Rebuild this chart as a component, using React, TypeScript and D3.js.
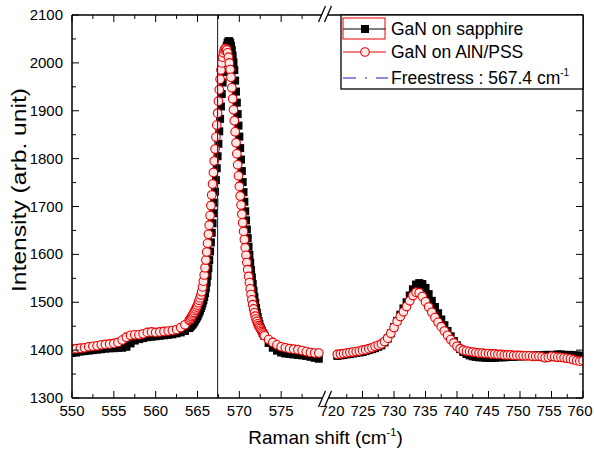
import React from 'react';
import * as d3 from 'd3';

// ---------- data ----------
const xLeft = [
  550, 550.5, 551, 551.5, 552, 552.5, 553, 553.5, 554, 554.5, 555, 555.5, 556, 556.5,
  557, 557.5, 558, 558.5, 559, 559.5, 560, 560.5, 561, 561.5, 562, 562.5, 563, 563.5,
  564.0, 564.1, 564.2, 564.3, 564.4, 564.5, 564.6, 564.7, 564.8, 564.9,
  565.0, 565.1, 565.2, 565.3, 565.4, 565.5, 565.6, 565.7, 565.8, 565.9,
  566.0, 566.1, 566.2, 566.3, 566.4, 566.5, 566.6, 566.7, 566.8, 566.9,
  567.0, 567.1, 567.2, 567.3, 567.4, 567.5, 567.6, 567.7, 567.8, 567.9,
  568.0, 568.1, 568.2, 568.3, 568.4, 568.5, 568.6, 568.7, 568.8, 568.9,
  569.0, 569.1, 569.2, 569.3, 569.4, 569.5, 569.6, 569.7, 569.8, 569.9,
  570.0, 570.1, 570.2, 570.3, 570.4, 570.5, 570.6, 570.7, 570.8, 570.9,
  571.0, 571.1, 571.2, 571.3, 571.4, 571.5, 571.6, 571.7, 571.8, 571.9,
  572.0, 572.1, 572.2, 572.3, 572.4, 572.5, 572.6, 572.7, 572.8, 572.9,
  573.0, 573.5, 574, 574.5, 575, 575.5, 576, 576.5, 577, 577.5, 578, 578.5, 579, 579.5,
];

const sapphireLeft = [
  1394, 1395, 1397, 1398, 1399, 1400, 1401, 1402, 1403, 1404, 1404, 1405, 1405, 1407,
  1414, 1420, 1423, 1425, 1427, 1428, 1429, 1430, 1431, 1432, 1433, 1435, 1437, 1440,
  1446, 1448, 1450, 1452, 1454, 1456, 1459, 1462, 1465, 1468,
  1471, 1475, 1479, 1483, 1488, 1493, 1498, 1504, 1511, 1519,
  1529, 1541, 1555, 1571, 1588, 1606, 1625, 1645, 1665, 1686,
  1708, 1731, 1755, 1780, 1805, 1831, 1857, 1883, 1909, 1935,
  1959, 1981, 2000, 2015, 2027, 2036, 2042, 2045, 2045, 2042,
  2036, 2027, 2015, 2001, 1985, 1963, 1940, 1917, 1893, 1869,
  1846, 1822, 1798, 1774, 1751, 1730, 1710, 1690, 1671, 1652,
  1634, 1616, 1599, 1583, 1567, 1552, 1538, 1524, 1511, 1499,
  1488, 1478, 1469, 1461, 1454, 1448, 1444, 1440, 1436, 1433,
  1430, 1415, 1405, 1399, 1395, 1393, 1392, 1391, 1390, 1389, 1388, 1386, 1384, 1382,
];

const pssLeft = [
  1402, 1403, 1404, 1405, 1407, 1408, 1409, 1411, 1412, 1413, 1414, 1416, 1421, 1427,
  1431, 1432, 1432, 1434, 1437, 1438, 1437, 1438, 1439, 1440, 1441, 1443, 1447, 1453,
  1462, 1464, 1467, 1470, 1473, 1476, 1479, 1483, 1486, 1490,
  1494, 1499, 1504, 1509, 1515, 1522, 1532, 1544, 1557, 1572,
  1588, 1605, 1623, 1642, 1661, 1681, 1702, 1724, 1747, 1771,
  1795, 1820, 1845, 1870, 1895, 1920, 1944, 1966, 1985, 2000,
  2012, 2021, 2027, 2030, 2030, 2027, 2021, 2012, 2000, 1986,
  1970, 1948, 1925, 1902, 1879, 1856, 1833, 1810, 1787, 1764,
  1742, 1722, 1703, 1684, 1666, 1648, 1631, 1614, 1598, 1583,
  1568, 1554, 1541, 1528, 1516, 1505, 1495, 1486, 1478, 1471,
  1465, 1460, 1455, 1451, 1448, 1445, 1442, 1439, 1436, 1433,
  1430, 1422, 1416, 1411, 1407, 1405, 1403, 1402, 1401, 1399, 1397, 1395, 1394, 1394,
];

const xRight = [
  721, 721.5, 722, 722.5, 723, 723.5, 724, 724.5, 725, 725.5, 726, 726.5, 727, 727.5,
  728, 728.5, 729, 729.5, 730, 730.5, 731, 731.5, 732, 732.5, 733, 733.5, 734, 734.5,
  735, 735.5, 736, 736.5, 737, 737.5, 738, 738.5, 739, 739.5, 740, 740.5, 741, 741.5,
  742, 742.5, 743, 743.5, 744, 744.5, 745, 745.5, 746, 746.5, 747, 747.5, 748, 748.5,
  749, 749.5, 750, 750.5, 751, 751.5, 752, 752.5, 753, 753.5, 754, 754.5, 755, 755.5,
  756, 756.5, 757, 757.5, 758, 758.5, 759, 759.5, 760,
];

const sapphireRight = [
  1388, 1389, 1390, 1391, 1392, 1393, 1394, 1395, 1396, 1398, 1400, 1402, 1404, 1407,
  1410, 1416, 1424, 1435, 1448, 1461, 1474, 1487, 1500, 1514, 1527, 1537, 1540, 1538,
  1530, 1517, 1503, 1490, 1477, 1464, 1452, 1440, 1429, 1419, 1410, 1402, 1396, 1392,
  1389, 1387, 1386, 1385, 1385, 1384, 1384, 1384, 1384, 1385, 1385, 1385, 1386, 1386,
  1386, 1387, 1387, 1387, 1388, 1388, 1388, 1389, 1389, 1389, 1390, 1390, 1390, 1390,
  1391, 1391, 1390, 1390, 1390, 1389, 1389, 1388, 1388,
];

const pssRight = [
  1391, 1392, 1393, 1394, 1395, 1396, 1397, 1398, 1400, 1401, 1403, 1405, 1408, 1410,
  1413, 1418, 1425, 1435, 1447, 1460, 1470, 1480, 1491, 1503, 1514, 1521, 1520, 1512,
  1501, 1490, 1479, 1468, 1458, 1449, 1440, 1431, 1422, 1415, 1408, 1403, 1400, 1398,
  1397, 1396, 1395, 1394, 1394, 1393, 1393, 1392, 1392, 1391, 1391, 1390, 1390, 1390,
  1389, 1389, 1389, 1388, 1388, 1388, 1387, 1387, 1387, 1386, 1384, 1385, 1387, 1386,
  1385, 1385, 1384, 1383, 1382, 1380, 1378, 1377, 1378,
];

const freestress = 567.4;

const xMajorLeft = [550, 555, 560, 565, 570, 575];
const xMinorLeft = [552.5, 557.5, 562.5, 567.5, 572.5, 577.5];
const xMajorRight = [725, 730, 735, 740, 745, 750, 755, 760];
const xLabelsRight = [720, 725, 730, 735, 740, 745, 750, 755, 760];
const xMinorRight = [722.5, 727.5, 732.5, 737.5, 742.5, 747.5, 752.5, 757.5];
const yMajor = [1300, 1400, 1500, 1600, 1700, 1800, 1900, 2000, 2100];
const yMinor = [1350, 1450, 1550, 1650, 1750, 1850, 1950, 2050];

const seriesNames = ['GaN on sapphire', 'GaN on AlN/PSS'];

// ---------- layout ----------
const W = 594, H = 450;
const L = 72, R = 583, T = 15, B = 398;
const BREAK_L = 323, BREAK_R = 331;
const FONT = '"Liberation Sans", Arial, sans-serif';

export default function App() {
  const xL = d3.scaleLinear().domain([550, 580]).range([L, BREAK_L]);
  const xR = d3.scaleLinear().domain([720, 760]).range([BREAK_R, R]);
  // label positions on the right segment sit slightly left of the ticks in the reference
  const xRLabel = d3.scaleLinear().domain([720, 760]).range([BREAK_R + 1, R - 3]);
  const y = d3.scaleLinear().domain([1300, 2100]).range([B, T]);

  const makePts = (xs: number[], ys: number[], sx: d3.ScaleLinear<number, number>) =>
    xs.map((v, i) => [sx(v), y(ys[i])] as [number, number]);

  const sapL = makePts(xLeft, sapphireLeft, xL);
  const sapR = makePts(xRight, sapphireRight, xR);
  const pssL = makePts(xLeft, pssLeft, xL);
  const pssR = makePts(xRight, pssRight, xR);

  const line = d3.line<[number, number]>().x(d => d[0]).y(d => d[1]);

  const sq = 8;
  const cr = 4.3;
  const red = '#e80000';
  const circFill = '#fde8e8';
  const blue = '#1a1ad0';

  const tickStyle = { stroke: '#000', strokeWidth: 1 };
  const maj = 7, min = 4;

  const xTicks: JSX.Element[] = [];
  const addX = (px: number, len: number, key: string) => {
    xTicks.push(<line key={'b' + key} x1={px} x2={px} y1={B} y2={B - len} {...tickStyle} />);
    xTicks.push(<line key={'t' + key} x1={px} x2={px} y1={T} y2={T + len} {...tickStyle} />);
  };
  xMajorLeft.forEach(v => addX(xL(v), maj, 'ML' + v));
  xMinorLeft.forEach(v => addX(xL(v), min, 'mL' + v));
  xMajorRight.forEach(v => addX(xR(v), maj, 'MR' + v));
  xMinorRight.forEach(v => addX(xR(v), min, 'mR' + v));

  const yTicks: JSX.Element[] = [];
  yMajor.forEach(v => {
    yTicks.push(<line key={'yl' + v} x1={L} x2={L + maj} y1={y(v)} y2={y(v)} {...tickStyle} />);
    yTicks.push(<line key={'yr' + v} x1={R} x2={R - maj} y1={y(v)} y2={y(v)} {...tickStyle} />);
  });
  yMinor.forEach(v => {
    yTicks.push(<line key={'yml' + v} x1={L} x2={L + min} y1={y(v)} y2={y(v)} {...tickStyle} />);
    yTicks.push(<line key={'ymr' + v} x1={R} x2={R - min} y1={y(v)} y2={y(v)} {...tickStyle} />);
  });

  const slash = (cx: number, cy: number, key: string) => (
    <line key={key} x1={cx - 3.5} y1={cy + 8} x2={cx + 3.5} y2={cy - 8} stroke="#000" strokeWidth={1.3} />
  );

  return (
    <svg width={W} height={H} style={{ position: 'absolute', left: 0, top: 0, background: '#fff' }}
      fontFamily={FONT}>
      <defs>
        <clipPath id="plotClip">
          <rect x={L} y={T} width={R - L} height={B - T} />
        </clipPath>
      </defs>
      <rect x={0} y={0} width={W} height={H} fill="#fff" />

      <g clipPath="url(#plotClip)">
        {/* sapphire: black squares */}
        <path d={line(sapL) || ''} fill="none" stroke="#000" strokeWidth={1} />
        <path d={line(sapR) || ''} fill="none" stroke="#000" strokeWidth={1} />
        {[...sapL, ...sapR].map((p, i) => (
          <rect key={'s' + i} x={p[0] - sq / 2} y={p[1] - sq / 2} width={sq} height={sq} fill="#000" />
        ))}
        {/* PSS: red open circles */}
        <path d={line(pssL) || ''} fill="none" stroke={red} strokeWidth={1} />
        <path d={line(pssR) || ''} fill="none" stroke={red} strokeWidth={1} />
        {[...pssL, ...pssR].map((p, i) => (
          <circle key={'c' + i} cx={p[0]} cy={p[1]} r={cr} fill={circFill} stroke={red} strokeWidth={1.1} />
        ))}
        {/* freestress line */}
        <line x1={xL(freestress)} x2={xL(freestress)} y1={T} y2={B} stroke={blue} strokeWidth={1.1} />
      </g>

      {/* frame */}
      <g stroke="#000" strokeWidth={1.5} fill="none">
        <line x1={L} y1={T} x2={L} y2={B} />
        <line x1={R} y1={T} x2={R} y2={B} />
        <line x1={L} y1={B} x2={BREAK_L - 1} y2={B} />
        <line x1={BREAK_R - 3} y1={B} x2={R} y2={B} />
        <line x1={L} y1={T} x2={BREAK_L - 1} y2={T} />
        <line x1={BREAK_R - 3} y1={T} x2={R} y2={T} />
      </g>
      {/* white gaps for axis break */}
      <rect x={BREAK_L - 1} y={B - 1} width={BREAK_R - BREAK_L - 2} height={2} fill="#fff" />
      <rect x={BREAK_L - 1} y={T - 1} width={BREAK_R - BREAK_L - 2} height={2} fill="#fff" />
      {slash(BREAK_L - 1, B + 1, 'sb1')}
      {slash(BREAK_R - 3, B + 1, 'sb2')}
      {slash(BREAK_L - 1, T - 1, 'st1')}
      {slash(BREAK_R - 3, T - 1, 'st2')}

      {xTicks}
      {yTicks}

      {/* tick labels */}
      <g fontSize={15} fill="#000" textAnchor="middle">
        {xMajorLeft.map(v => (
          <text key={'xl' + v} x={xL(v)} y={B + 18}>{v}</text>
        ))}
        {xLabelsRight.map(v => (
          <text key={'xr' + v} x={xRLabel(v)} y={B + 18}>{v}</text>
        ))}
      </g>
      <g fontSize={15} fill="#000" textAnchor="end">
        {yMajor.map(v => (
          <text key={'yt' + v} x={L - 9} y={y(v) + 5}>{v}</text>
        ))}
      </g>

      {/* axis titles */}
      <text x={(L + R) / 2 - 2} y={444} fontSize={19} textAnchor="middle" fill="#000">
        Raman shift (cm<tspan dy={-8} fontSize={11}>-1</tspan><tspan dy={8}>)</tspan>
      </text>
      <text transform={`translate(26,190) rotate(-90)`} fontSize={20} textAnchor="middle" fill="#000"
        textLength={204} lengthAdjust="spacingAndGlyphs">
        Intensity (arb. unit)
      </text>

      {/* legend */}
      <rect x={341} y={T} width={R - 341} height={74} fill="#fff" stroke="#000" strokeWidth={1.3} />
      <line x1={343} x2={386} y1={29} y2={29} stroke="#000" strokeWidth={1} />
      <rect x={365 - sq / 2} y={29 - sq / 2} width={sq} height={sq} fill="#000" />
      <rect x={343} y={18} width={42} height={21} fill="none" stroke={red} strokeWidth={1} />
      <line x1={343} x2={386} y1={52} y2={52} stroke={red} strokeWidth={1} />
      <circle cx={365} cy={52} r={cr} fill={circFill} stroke={red} strokeWidth={1.1} />
      <line x1={343} x2={388} y1={78} y2={78} stroke={blue} strokeWidth={1.2} strokeDasharray="13,9,2,9" />
      <g fontSize={17.5} fill="#000">
        <text x={391} y={35}>{seriesNames[0]}</text>
        <text x={391} y={58}>{seriesNames[1]}</text>
        <text x={391} y={84}>
          Freestress : {freestress} cm<tspan dy={-8} fontSize={10}>-1</tspan>
        </text>
      </g>
    </svg>
  );
}
